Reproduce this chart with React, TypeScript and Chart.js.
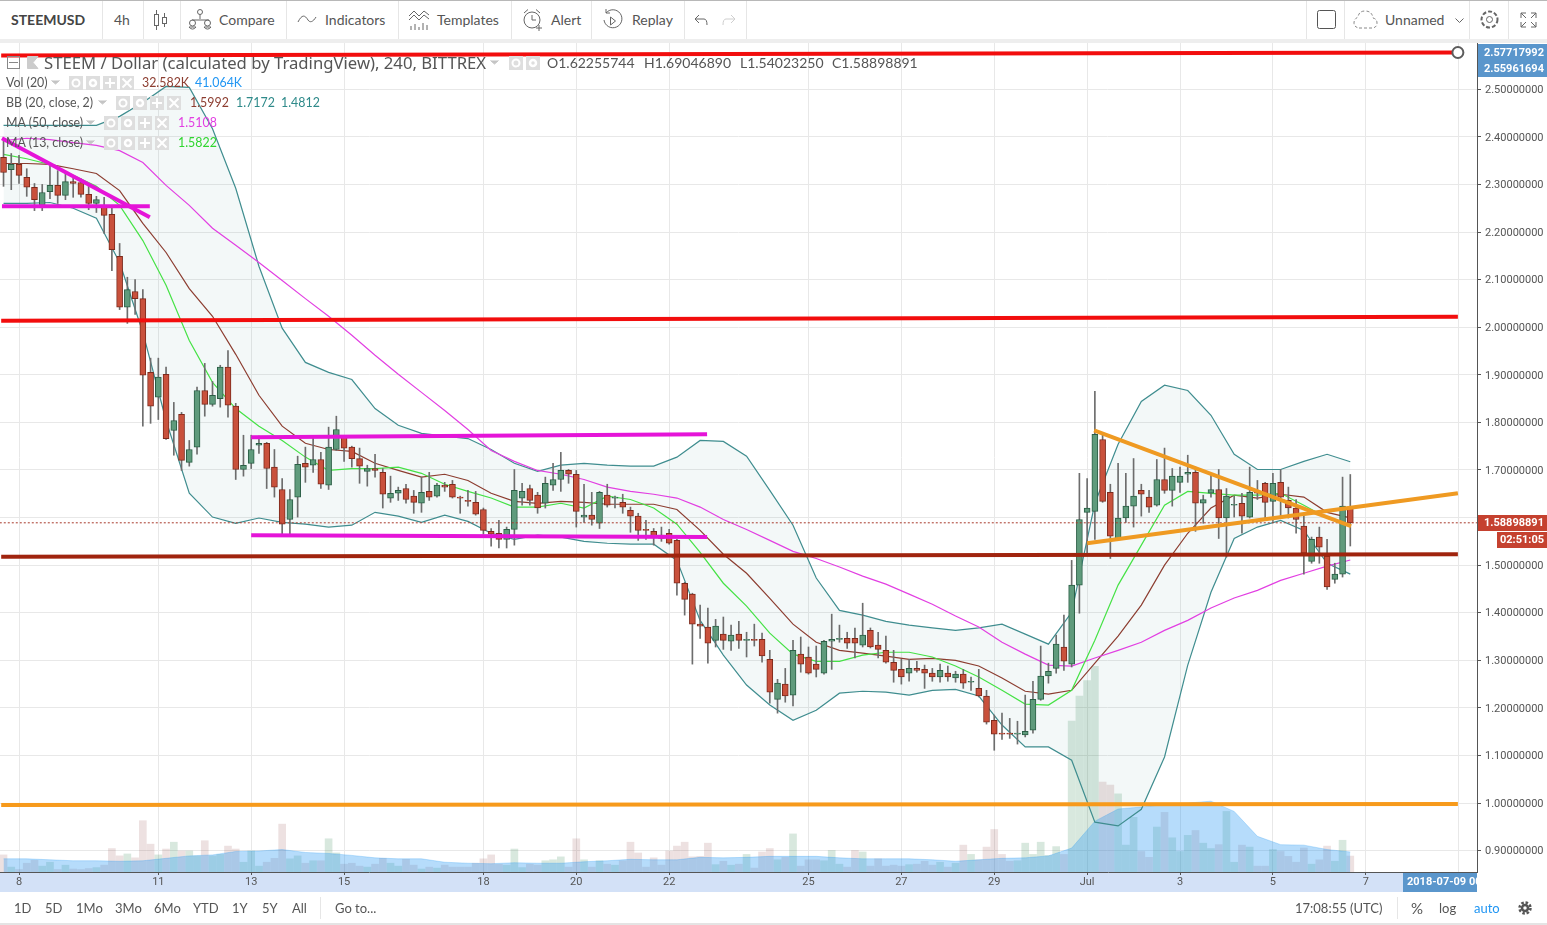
import React, { useEffect, useRef } from "react";
import { Chart, registerables } from "chart.js";

Chart.register(...registerables);

// ---------- Data ----------
const FIRST_BAR = -2; // bar number, counted in 4h bars from June 8 00:00
const opens = [2.357,2.331,2.342,2.315,2.294,2.256,2.285,2.298,2.277,2.306,
2.304,2.279,2.260,2.252,2.237,2.149,2.042,2.075,2.060,1.905,
1.853,1.901,1.783,1.817,1.716,1.748,1.867,1.838,1.850,1.916,
1.834,1.701,1.714,1.752,1.756,1.706,1.659,1.596,1.643,1.714,
1.710,1.722,1.668,1.743,1.769,1.748,1.724,1.697,1.703,1.695,
1.641,1.651,1.661,1.645,1.630,1.655,1.645,1.668,1.670,1.643,
1.636,1.632,1.617,1.571,1.567,1.554,1.575,1.641,1.661,1.647,
1.630,1.668,1.680,1.699,1.691,1.601,1.605,1.588,1.647,1.641,
1.632,1.615,1.603,1.575,1.571,1.563,1.567,1.552,1.462,1.439,
1.376,1.370,1.342,1.355,1.340,1.355,1.342,1.344,1.344,1.302,
1.218,1.250,1.227,1.313,1.307,1.292,1.273,1.340,1.344,1.346,
1.346,1.332,1.363,1.332,1.321,1.296,1.281,1.273,1.283,1.281,
1.273,1.265,1.273,1.263,1.271,1.254,1.241,1.225,1.174,1.147,
1.147,1.145,1.143,1.153,1.218,1.267,1.283,1.328,1.292,1.458,
1.611,1.613,1.764,1.653,1.554,1.599,1.624,1.657,1.643,1.626,
1.680,1.657,1.674,1.691,1.695,1.630,1.651,1.659,1.599,1.626,
1.630,1.601,1.655,1.672,1.634,1.674,1.636,1.620,1.582,1.508,
1.559,1.519,1.470,1.481,1.62255744];
const highs = [2.392,2.365,2.361,2.333,2.302,2.300,2.344,2.329,2.323,2.319,
2.312,2.298,2.275,2.273,2.250,2.176,2.105,2.100,2.079,1.935,
1.935,1.916,1.842,1.821,1.762,1.874,1.924,1.886,1.920,1.951,
1.840,1.773,1.773,1.771,1.758,1.743,1.682,1.659,1.729,1.748,
1.771,1.737,1.790,1.813,1.771,1.750,1.746,1.710,1.733,1.703,
1.687,1.664,1.670,1.657,1.685,1.695,1.672,1.674,1.678,1.645,
1.657,1.655,1.620,1.577,1.594,1.580,1.701,1.672,1.668,1.653,
1.685,1.714,1.737,1.701,1.699,1.670,1.653,1.655,1.670,1.645,
1.649,1.622,1.609,1.594,1.577,1.580,1.575,1.554,1.464,1.441,
1.416,1.410,1.386,1.391,1.374,1.382,1.359,1.376,1.357,1.321,
1.260,1.283,1.342,1.349,1.328,1.330,1.342,1.397,1.374,1.359,
1.368,1.420,1.368,1.359,1.351,1.321,1.302,1.302,1.298,1.290,
1.283,1.292,1.288,1.277,1.281,1.265,1.281,1.237,1.185,1.189,
1.178,1.172,1.227,1.256,1.330,1.294,1.353,1.395,1.510,1.693,
1.682,1.865,1.777,1.670,1.714,1.693,1.724,1.670,1.657,1.722,
1.746,1.703,1.706,1.731,1.706,1.647,1.691,1.701,1.661,1.645,
1.651,1.706,1.678,1.674,1.693,1.701,1.664,1.638,1.603,1.559,
1.580,1.554,1.504,1.685,1.6904689];
const lows = [2.296,2.289,2.302,2.275,2.245,2.245,2.270,2.260,2.268,2.273,
2.273,2.247,2.241,2.197,2.119,2.037,2.008,2.027,1.792,1.798,
1.806,1.764,1.731,1.699,1.708,1.733,1.813,1.834,1.832,1.811,
1.680,1.687,1.703,1.735,1.661,1.643,1.563,1.563,1.601,1.674,
1.695,1.661,1.659,1.741,1.718,1.706,1.672,1.666,1.685,1.620,
1.632,1.636,1.630,1.609,1.611,1.636,1.643,1.655,1.641,1.609,
1.624,1.605,1.565,1.540,1.536,1.536,1.542,1.626,1.626,1.609,
1.620,1.657,1.655,1.672,1.580,1.590,1.584,1.577,1.622,1.620,
1.609,1.569,1.552,1.554,1.542,1.550,1.544,1.437,1.395,1.292,
1.346,1.294,1.328,1.323,1.321,1.325,1.307,1.330,1.296,1.210,
1.189,1.212,1.204,1.275,1.271,1.265,1.271,1.281,1.338,1.325,
1.305,1.328,1.326,1.305,1.294,1.254,1.250,1.256,1.275,1.241,
1.256,1.254,1.256,1.254,1.241,1.237,1.223,1.166,1.111,1.134,
1.136,1.124,1.139,1.147,1.216,1.252,1.273,1.279,1.286,1.399,
1.521,1.554,1.632,1.514,1.552,1.590,1.580,1.603,1.611,1.624,
1.651,1.624,1.653,1.674,1.571,1.588,1.643,1.556,1.517,1.601,
1.567,1.599,1.638,1.599,1.592,1.601,1.599,1.567,1.481,1.504,
1.504,1.449,1.462,1.475,1.5402325];
const closes = [2.325,2.342,2.319,2.294,2.268,2.283,2.298,2.277,2.306,2.302,
2.279,2.260,2.268,2.235,2.163,2.042,2.079,2.060,1.899,1.834,
1.895,1.766,1.804,1.720,1.743,1.867,1.838,1.857,1.916,1.836,
1.701,1.710,1.743,1.756,1.703,1.664,1.586,1.638,1.712,1.706,
1.722,1.670,1.748,1.785,1.746,1.724,1.708,1.703,1.699,1.649,
1.651,1.657,1.638,1.632,1.653,1.643,1.668,1.664,1.643,1.641,
1.634,1.607,1.573,1.565,1.554,1.575,1.657,1.655,1.636,1.620,
1.672,1.680,1.699,1.691,1.613,1.605,1.596,1.653,1.626,1.643,
1.622,1.603,1.573,1.573,1.561,1.556,1.546,1.462,1.428,1.376,
1.372,1.336,1.372,1.342,1.353,1.342,1.344,1.342,1.309,1.233,
1.252,1.225,1.321,1.292,1.273,1.281,1.340,1.344,1.346,1.336,
1.336,1.353,1.328,1.323,1.296,1.279,1.265,1.283,1.279,1.273,
1.265,1.279,1.265,1.271,1.252,1.256,1.225,1.170,1.145,1.145,
1.145,1.147,1.151,1.218,1.267,1.277,1.334,1.298,1.458,1.596,
1.620,1.775,1.634,1.561,1.599,1.624,1.645,1.649,1.622,1.680,
1.657,1.687,1.687,1.695,1.630,1.638,1.659,1.599,1.645,1.628,
1.603,1.653,1.651,1.632,1.672,1.643,1.620,1.596,1.525,1.554,
1.538,1.454,1.481,1.624,1.58898891];
const volumesK = [35,10,5,18,24,12,20,5,14,6,
5,7,9,14,48,33,37,29,105,57,
35,47,61,43,43,33,64,33,36,53,
47,20,43,12,20,28,98,27,33,18,
23,23,68,39,16,18,12,10,16,28,
18,12,26,14,6,10,8,14,10,10,
10,18,27,35,16,14,47,9,16,14,
23,25,31,10,68,25,10,23,16,14,
23,61,39,10,29,14,43,53,61,31,
32,59,15,22,14,16,36,8,41,48,
25,30,78,12,25,25,23,44,16,10,
44,41,12,27,12,14,12,15,16,22,
14,20,10,18,55,36,25,51,87,36,
22,23,59,36,61,34,52,36,309,360,
392,421,184,178,160,55,112,42,30,92,
122,70,42,75,85,59,48,56,124,20,
55,51,12,12,46,42,32,20,49,16,
25,53,22,65,32.6];

// Indicators, read every third bar starting at FIRST_BAR
const SAMPLE_STEP = 3;
const bbUpper = [2.424,2.424,2.424,2.424,2.424,2.443,2.472,2.506,2.504,2.417,2.292,2.128,1.998,1.926,1.905,1.890,1.829,1.794,1.777,1.771,1.766,1.743,1.714,1.697,1.710,1.714,1.710,1.708,1.708,1.727,1.762,1.760,1.729,1.657,1.584,1.473,1.405,1.395,1.382,1.374,1.368,1.363,1.368,1.376,1.355,1.334,1.401,1.630,1.754,1.844,1.878,1.867,1.815,1.733,1.701,1.701,1.718,1.733,1.7172];
const bbLower = [2.260,2.260,2.262,2.250,2.229,2.136,1.989,1.804,1.651,1.601,1.588,1.599,1.590,1.586,1.580,1.584,1.611,1.603,1.590,1.605,1.592,1.567,1.554,1.563,1.559,1.550,1.546,1.544,1.544,1.510,1.384,1.311,1.248,1.206,1.174,1.195,1.231,1.235,1.233,1.227,1.237,1.239,1.225,1.164,1.118,1.118,1.090,0.960,0.952,0.987,1.097,1.290,1.443,1.556,1.580,1.594,1.573,1.504,1.4812];
const bbBasis = [2.344,2.344,2.342,2.333,2.323,2.287,2.218,2.157,2.081,2.023,1.943,1.857,1.792,1.756,1.743,1.739,1.714,1.699,1.685,1.691,1.678,1.651,1.634,1.630,1.634,1.632,1.628,1.628,1.628,1.617,1.573,1.523,1.483,1.430,1.376,1.338,1.321,1.315,1.309,1.302,1.304,1.300,1.288,1.263,1.235,1.229,1.237,1.294,1.351,1.416,1.500,1.567,1.620,1.647,1.641,1.649,1.643,1.611,1.5992];
const ma13 = [2.363,2.354,2.342,2.319,2.296,2.256,2.182,2.088,1.972,1.884,1.829,1.792,1.762,1.727,1.699,1.703,1.703,1.706,1.693,1.670,1.655,1.641,1.622,1.622,1.630,1.620,1.645,1.638,1.620,1.586,1.527,1.462,1.414,1.357,1.313,1.298,1.298,1.311,1.317,1.317,1.307,1.288,1.265,1.237,1.208,1.206,1.237,1.342,1.458,1.542,1.626,1.655,1.651,1.647,1.647,1.651,1.626,1.599,1.5822];
const ma50 = [2.392,2.397,2.394,2.388,2.382,2.371,2.346,2.298,2.256,2.208,2.172,2.136,2.098,2.060,2.023,1.983,1.941,1.901,1.863,1.825,1.785,1.741,1.718,1.699,1.691,1.680,1.664,1.655,1.649,1.641,1.622,1.596,1.575,1.552,1.529,1.514,1.496,1.477,1.460,1.439,1.418,1.393,1.370,1.338,1.313,1.290,1.288,1.305,1.321,1.338,1.363,1.384,1.410,1.431,1.447,1.468,1.483,1.498,1.5108];
const volMaK = [27,27,25,23,23,22,23,28,33,35,42,43,46,40,38,34,29,27,27,20,18,17,19,18,18,21,23,26,25,25,30,29,30,32,32,32,29,27,27,27,25,22,25,28,29,33,49,104,129,133,138,141,145,124,73,56,55,46,41.064];

// Hand-drawn trend lines: [bar, price] pairs
const lineTopRed = { bars: [-2.3, 185.9], prices: [2.571, 2.57717992] };
const lineMidRed = { bars: [-2.3, 185.9], prices: [2.0133, 2.0217] };
const lineBrown = { bars: [-2.3, 185.9], prices: [1.5175, 1.523] };
const lineOrangeFlat = { bars: [-2.3, 185.9], prices: [0.9958, 0.998] };
const linePinkDown = { bars: [-2.2, 16.9], prices: [2.397, 2.231] };
const linePinkFlat = { bars: [-2.2, 16.9], prices: [2.254, 2.254] };
const linePinkUpper = { bars: [30, 88.9], prices: [1.769, 1.775] };
const linePinkLower = { bars: [30, 88.9], prices: [1.563, 1.559] };
const lineOrangeDown = { bars: [138.9, 172.1], prices: [1.783, 1.582] };
const lineOrangeUp = { bars: [138, 185.9], prices: [1.546, 1.651] };

const LAST_PRICE = 1.58898891;
const priceTicks = [0.9,1.0,1.1,1.2,1.3,1.4,1.5,1.6,1.7,1.8,1.9,2.0,2.1,2.2,2.3,2.4,2.5];
const dayTickBars = [0,18,30,42,60,72,84,102,114,126,138,150,162,174,186];
const dayTickLabels = ["8","11","13","15","18","20","22","25","27","29","Jul","3","5","7",""];
const rangeButtons = ["1D","5D","1Mo","3Mo","6Mo","YTD","1Y","5Y","All"];

// ---------- Helpers ----------
const UI_FONT = "Lato, 'Noto Sans', sans-serif";
const bars = opens.map((_, k) => FIRST_BAR + k);
const sampleBars = bbUpper.map((_, k) => FIRST_BAR + SAMPLE_STEP * k);
const series = (ys: number[]) => ys.map((y, k) => ({ x: sampleBars[k], y }));
const isUp = (k: number) => closes[k] >= opens[k];

const trend = (l: { bars: number[]; prices: number[] }, color: string, order: number, extra: object = {}) => ({
  type: "line" as const,
  data: l.bars.map((x, k) => ({ x, y: l.prices[k] })),
  borderColor: color,
  borderWidth: 4,
  pointRadius: 0,
  order,
  ...extra,
});

const indicator = (ys: number[], color: string, order: number, extra: object = {}) => ({
  type: "line" as const,
  data: series(ys),
  borderColor: color,
  borderWidth: 1.2,
  pointRadius: 0,
  tension: 0,
  fill: false,
  order,
  ...extra,
});

function T(p: { x: number; y: number; s?: number; c?: string; w?: number; f?: string; children: React.ReactNode }) {
  return (
    <div style={{ position: "absolute", left: p.x, top: p.y, transform: "translateY(-50%)", fontSize: p.s ?? 14, color: p.c ?? "#555", fontWeight: p.w ?? 400, whiteSpace: "nowrap", lineHeight: 1, fontFamily: p.f ?? UI_FONT }}>
      {p.children}
    </div>
  );
}

function Sep(p: { x: number; y: number; h: number }) {
  return <div style={{ position: "absolute", left: p.x, top: p.y, width: 1, height: p.h, background: "#e6e6e6" }} />;
}

function Icon(p: { x: number; y: number; w: number; h: number; children: React.ReactNode; c?: string }) {
  return (
    <svg style={{ position: "absolute", left: p.x, top: p.y }} width={p.w} height={p.h} viewBox={`0 0 ${p.w} ${p.h}`} fill="none" stroke={p.c ?? "#666"} strokeWidth={1}>
      {p.children}
    </svg>
  );
}

function Chevron(p: { x: number; y: number }) {
  return (
    <Icon x={p.x} y={p.y - 2} w={9} h={5} c="#c4c4c4">
      <path d="M0.5 0.5 L4.5 4 L8.5 0.5" fill="#c4c4c4" />
    </Icon>
  );
}

function LegendIcons(p: { xs: number[]; y: number }) {
  return (
    <>
      {p.xs.map((x, k) => (
        <svg key={k} style={{ position: "absolute", left: x, top: p.y - 7 }} width={14} height={14} viewBox="0 0 14 14">
          <rect width={14} height={14} fill="#dedede" />
          {k === 0 && <circle cx={7} cy={7} r={3.5} fill="none" stroke="#fff" strokeWidth={2} />}
          {k === 1 && <circle cx={7} cy={7} r={3} fill="none" stroke="#fff" strokeWidth={2.5} />}
          {k === 2 && <path d="M7 2 V12 M2 7 H12" stroke="#fff" strokeWidth={2} />}
          {k === 3 && <path d="M2.5 2.5 L11.5 11.5 M11.5 2.5 L2.5 11.5" stroke="#fff" strokeWidth={2} />}
        </svg>
      ))}
    </>
  );
}

// ---------- Chart ----------
const chromePlugin = {
  id: "chrome",
  beforeDraw(chart: any) {
    const { ctx, chartArea: a } = chart;
    ctx.save();
    ctx.fillStyle = "#d3e1f7";
    ctx.fillRect(0, a.bottom + 1, 1403, 19);
    ctx.restore();
  },
  afterDraw(chart: any) {
    const { ctx, chartArea: a } = chart;
    ctx.save();
    ctx.textBaseline = "middle";
    ctx.font = "bold 11px Roboto, sans-serif";
    // scale tags
    ctx.fillStyle = "#5a96cc";
    ctx.fillRect(a.right + 1, 44, 69, 33);
    ctx.fillStyle = "#fff";
    ctx.fillText("2.57717992", 1484, 53);
    ctx.fillText("2.55961694", 1484, 69);
    ctx.fillStyle = "#c5412f";
    ctx.fillRect(a.right + 1, 515, 69, 16);
    ctx.fillRect(1497, 532, 50, 16);
    ctx.fillStyle = "#fff";
    ctx.fillText("1.58898891", 1484, 523.5);
    ctx.fillText("02:51:05", 1500, 540.5);
    // crosshair date tag
    ctx.beginPath();
    ctx.rect(1403, a.bottom + 1, 74, 19);
    ctx.clip();
    ctx.fillStyle = "#5a96cc";
    ctx.fillRect(1403, a.bottom + 1, 74, 19);
    ctx.fillStyle = "#fff";
    ctx.fillText("2018-07-09 00", 1407, a.bottom + 10.5);
    ctx.restore();
  },
};

function PriceChart() {
  const ref = useRef<HTMLCanvasElement>(null);
  useEffect(() => {
    const wickData = bars.map((x, k) => ({ x, y: [lows[k], highs[k]] }));
    const bodyData = bars.map((x, k) => ({ x, y: [opens[k], closes[k]] }));
    const volData = bars.map((x, k) => ({ x, y: volumesK[k] }));
    const chart = new Chart(ref.current as HTMLCanvasElement, {
      data: {
        datasets: [
          indicator(bbUpper, "#3f8d8f", 70),
          indicator(bbLower, "#3f8d8f", 71, {
            fill: { target: 0 },
            backgroundColor: "rgba(40,120,120,0.055)",
          }),
          indicator(bbBasis, "#8c3d30", 69),
          indicator(ma50, "#e23fe2", 68),
          indicator(ma13, "#45e245", 67),
          {
            type: "bar" as const,
            data: volData,
            yAxisID: "vol",
            barThickness: 7,
            grouped: false,
            order: 100,
            backgroundColor: bars.map((_, k) => (isUp(k) ? "rgba(40,125,70,0.18)" : "rgba(130,40,40,0.14)")),
          },
          {
            type: "line" as const,
            data: series(volMaK),
            yAxisID: "vol",
            borderColor: "rgba(33,150,243,0.25)",
            borderWidth: 1,
            pointRadius: 0,
            fill: "origin",
            backgroundColor: "rgba(33,150,243,0.33)",
            order: 90,
          },
          {
            type: "bar" as const,
            data: wickData,
            barThickness: 1,
            grouped: false,
            order: 50,
            backgroundColor: "#6d6d6d",
          },
          {
            type: "bar" as const,
            data: bodyData,
            barThickness: 6,
            grouped: false,
            order: 49,
            borderSkipped: false,
            borderWidth: 1,
            backgroundColor: bars.map((_, k) => (isUp(k) ? "#5f9b7c" : "#c9513c")),
            borderColor: bars.map((_, k) => (isUp(k) ? "#2a5e45" : "#7d2a1c")),
          },
          {
            type: "line" as const,
            data: [{ x: -3, y: LAST_PRICE }, { x: 189, y: LAST_PRICE }],
            borderColor: "#a83a2c",
            borderWidth: 1,
            borderDash: [2, 2],
            pointRadius: 0,
            order: 45,
          },
          trend(lineMidRed, "#f20d0d", 30),
          trend(lineBrown, "#a0240e", 30),
          trend(lineOrangeFlat, "#f79a1b", 30),
          trend(linePinkDown, "#e514d8", 30),
          trend(linePinkFlat, "#e514d8", 30),
          trend(linePinkUpper, "#e514d8", 30),
          trend(linePinkLower, "#e514d8", 30),
          trend(lineOrangeDown, "#ef9a22", 30),
          trend(lineOrangeUp, "#ef9a22", 30),
          trend(lineTopRed, "#f20d0d", 29, {
            pointRadius: [0, 5.5],
            pointBackgroundColor: "#fff",
            pointBorderColor: "#5c5c5c",
            pointBorderWidth: 2,
          }),
        ] as any,
      },
      options: {
        animation: false,
        responsive: false,
        maintainAspectRatio: false,
        layout: { autoPadding: false, padding: { top: 43, right: 0, bottom: 33, left: 0 } },
        plugins: { legend: { display: false }, tooltip: { enabled: false } },
        events: [],
        scales: {
          x: {
            type: "linear",
            offset: false,
            min: -2.455,
            max: 188.37,
            afterBuildTicks: (s: any) => {
              s.ticks = dayTickBars.map((value) => ({ value }));
            },
            afterFit: (s: any) => {
              s.height = 20;
              s.paddingLeft = 0;
              s.paddingRight = 0;
            },
            grid: { offset: false, color: "#e8e8e8", tickColor: "#555", tickLength: 3 },
            border: { display: true, color: "#555" },
            ticks: {
              autoSkip: false,
              maxRotation: 0,
              padding: 1,
              font: { family: "Roboto, sans-serif", size: 11 },
              color: "#555",
              callback: (v: any) => dayTickLabels[dayTickBars.indexOf(v)] ?? "",
            },
          },
          y: {
            position: "right",
            min: 0.8552,
            max: 2.5972,
            afterBuildTicks: (s: any) => {
              s.ticks = priceTicks.map((value) => ({ value }));
            },
            afterFit: (s: any) => {
              s.width = 70;
              s.paddingTop = 0;
              s.paddingBottom = 0;
            },
            grid: { color: "#e8e8e8", tickColor: "#555", tickLength: 4 },
            border: { display: true, color: "#555" },
            ticks: {
              autoSkip: false,
              padding: 4,
              labelOffset: 1,
              font: { family: "Roboto, sans-serif", size: 11 },
              color: "#555",
              callback: (v: any) => (Math.abs(v - 1.6) < 1e-6 ? "" : Number(v).toFixed(8)),
            },
          },
          vol: { display: false, min: 0, max: 1697 },
        },
      } as any,
      plugins: [chromePlugin],
    });
    return () => chart.destroy();
  }, []);
  return <canvas ref={ref} width={1547} height={925} style={{ position: "absolute", left: 0, top: 0, display: "block" }} />;
}

export default function App() {
  return (
    <div style={{ position: "fixed", left: 0, top: 0, width: 1547, height: 925, overflow: "hidden", background: "#fff" }}>
      <PriceChart />

      {/* top toolbar */}
      <div style={{ position: "absolute", left: 0, top: 0, width: 1547, height: 39, background: "#fff", borderTop: "1px solid #b8b8b8", boxSizing: "border-box" }} />
      <div style={{ position: "absolute", left: 0, top: 39, width: 1547, height: 4, background: "#eeeeee" }} />
      {[102, 143, 180, 286, 398, 511, 591, 684, 746, 1306, 1344, 1469, 1508].map((x) => (
        <Sep key={x} x={x} y={1} h={38} />
      ))}
      <T x={11} y={20} w={700} s={14} c="#444">STEEMUSD</T>
      <T x={114} y={20} s={14}>4h</T>
      <Icon x={153} y={9} w={15} h={22}>
        <path d="M3.5 1 V21 M11.5 4 V18" />
        <rect x={1.5} y={5.5} width={4} height={11} fill="#fff" />
        <rect x={9.5} y={8.5} width={4} height={6} fill="#fff" />
      </Icon>
      <Icon x={188} y={8} w={25} h={24}>
        <circle cx={12} cy={4} r={2.5} />
        <path d="M12 6.5 V11 M4 12 L21 12" />
        <path d="M1 19 a4 4 0 0 0 7 0 Z M16 19 a4 4 0 0 0 7 0 Z" />
        <circle cx={4.5} cy={15} r={3} />
        <circle cx={19.5} cy={15} r={3} />
      </Icon>
      <T x={219} y={20} s={14}>Compare</T>
      <Icon x={297} y={13} w={20} h={14}>
        <path d="M1 9 C5 1 8 2 11 7 C13 10 16 9 19 4" />
      </Icon>
      <T x={325} y={20} s={14}>Indicators</T>
      <Icon x={408} y={9} w={22} h={22}>
        <path d="M1 7 L6 2 L11 7 L16 2 L21 6 M1 11 L6 6 L11 11 L16 6 L21 10 M3 21 V17 M7 21 V15 M11 21 V18 M15 21 V14 M19 21 V16" />
      </Icon>
      <T x={437} y={20} s={14}>Templates</T>
      <Icon x={522} y={8} w={21} h={24}>
        <circle cx={10} cy={12} r={8} />
        <path d="M10 7 V12 H14 M2 5 L6 1.5 M18 5 L14 1.5 M14 20 H20 M17 17 V23" />
      </Icon>
      <T x={551} y={20} s={14}>Alert</T>
      <Icon x={602} y={8} w={21} h={24}>
        <path d="M4 5 A9 9 0 1 1 2 12 M4 1 V5 H8 M8.5 9 L13.5 13 L8.5 17 Z" />
      </Icon>
      <T x={632} y={20} s={14}>Replay</T>
      <Icon x={694} y={14} w={14} h={12}>
        <path d="M5 1 L1 5 L5 9 M1 5 H10 Q13 5 13 11" />
      </Icon>
      <Icon x={722} y={14} w={14} h={12} c="#cfcfcf">
        <path d="M9 1 L13 5 L9 9 M13 5 H4 Q1 5 1 11" />
      </Icon>
      <Icon x={1317} y={10} w={19} h={19} c="#555">
        <rect x={0.5} y={0.5} width={18} height={18} rx={2} />
      </Icon>
      <Icon x={1353} y={10} w={25} h={19} c="#888">
        <path d="M6 18 H20 Q24 17 24 13 Q24 9 20 8 Q19 1 12 1 Q6 1 5 7 Q1 9 1 13 Q1 17 6 18" strokeDasharray="3 2" />
      </Icon>
      <T x={1385} y={20} s={14}>Unnamed</T>
      <Icon x={1455} y={18} w={9} h={6} c="#666">
        <path d="M0.5 0.5 L4.5 4.5 L8.5 0.5" />
      </Icon>
      <Icon x={1479} y={9} w={21} h={21}>
        <circle cx={10.5} cy={10.5} r={3} />
        <circle cx={10.5} cy={10.5} r={8} strokeDasharray="4 2" strokeWidth={2} />
      </Icon>
      <Icon x={1520} y={12} w={17} h={16}>
        <path d="M1 6 V1 H6 M16 6 V1 H11 M1 10 V15 H6 M16 10 V15 H11 M1 1 L6 6 M16 1 L11 6 M1 15 L6 10 M16 15 L11 10" />
      </Icon>

      {/* chart legend */}
      <Icon x={7} y={56} w={13} h={13} c="#888">
        <rect x={0.5} y={0.5} width={12} height={12} />
        <path d="M2 6.5 H11" />
      </Icon>
      <Icon x={27} y={56} w={12} h={13} c="#ccc">
        <path d="M0.5 0.5 H11 L6 6.5 L11 12.5 H0.5 Z" fill="#ccc" />
      </Icon>
      <T x={44} y={63} s={16.7} f="'Noto Sans', sans-serif">STEEM / Dollar (calculated by TradingView), 240, BITTREX</T>
      <Chevron x={490} y={62} />
      <LegendIcons xs={[509, 526]} y={63} />
      <T x={547} y={63} s={14}>O1.62255744</T>
      <T x={644} y={63} s={14}>H1.69046890</T>
      <T x={740} y={63} s={14}>L1.54023250</T>
      <T x={832} y={63} s={14}>C1.58898891</T>

      <T x={6} y={83} s={12.4}>Vol (20)</T>
      <Chevron x={51} y={82} />
      <LegendIcons xs={[69, 86, 103, 120]} y={83} />
      <T x={142} y={83} s={12.4} c="#8c3d30">32.582K</T>
      <T x={195} y={83} s={12.4} c="#2196f3">41.064K</T>

      <T x={6} y={103} s={12.4}>BB (20, close, 2)</T>
      <Chevron x={98} y={102} />
      <LegendIcons xs={[116, 133, 150, 167]} y={103} />
      <T x={190} y={103} s={12.4} c="#8c3d30">1.5992</T>
      <T x={236} y={103} s={12.4} c="#2f8a8a">1.7172</T>
      <T x={281} y={103} s={12.4} c="#2f8a8a">1.4812</T>

      <T x={6} y={123} s={12.4}>MA (50, close)</T>
      <Chevron x={86} y={122} />
      <LegendIcons xs={[104, 121, 138, 155]} y={123} />
      <T x={178} y={123} s={12.4} c="#e23fe2">1.5108</T>

      <T x={6} y={143} s={12.4}>MA (13, close)</T>
      <Chevron x={86} y={142} />
      <LegendIcons xs={[104, 121, 138, 155]} y={143} />
      <T x={178} y={143} s={12.4} c="#2fd62f">1.5822</T>

      {/* bottom toolbar */}
      <div style={{ position: "absolute", left: 0, top: 923, width: 1547, height: 2, background: "#e4e4e4" }} />
      {rangeButtons.map((b, k) => (
        <T key={b} x={[14, 45, 76, 115, 154, 193, 232, 262, 292][k]} y={908} s={13}>{b}</T>
      ))}
      <Sep x={320} y={897} h={22} />
      <T x={335} y={908} s={13}>Go to...</T>
      <T x={1295} y={908} s={13}>17:08:55 (UTC)</T>
      <Sep x={1397} y={897} h={22} />
      <T x={1411} y={908} s={15}>%</T>
      <T x={1439} y={908} s={13}>log</T>
      <T x={1474} y={908} s={13} c="#2196f3">auto</T>
      <Icon x={1518} y={901} w={14} h={14} c="#555">
        <circle cx={7} cy={7} r={3} strokeWidth={2.5} />
        <circle cx={7} cy={7} r={5.5} strokeDasharray="2.5 1.8" strokeWidth={2.5} />
      </Icon>
    </div>
  );
}
